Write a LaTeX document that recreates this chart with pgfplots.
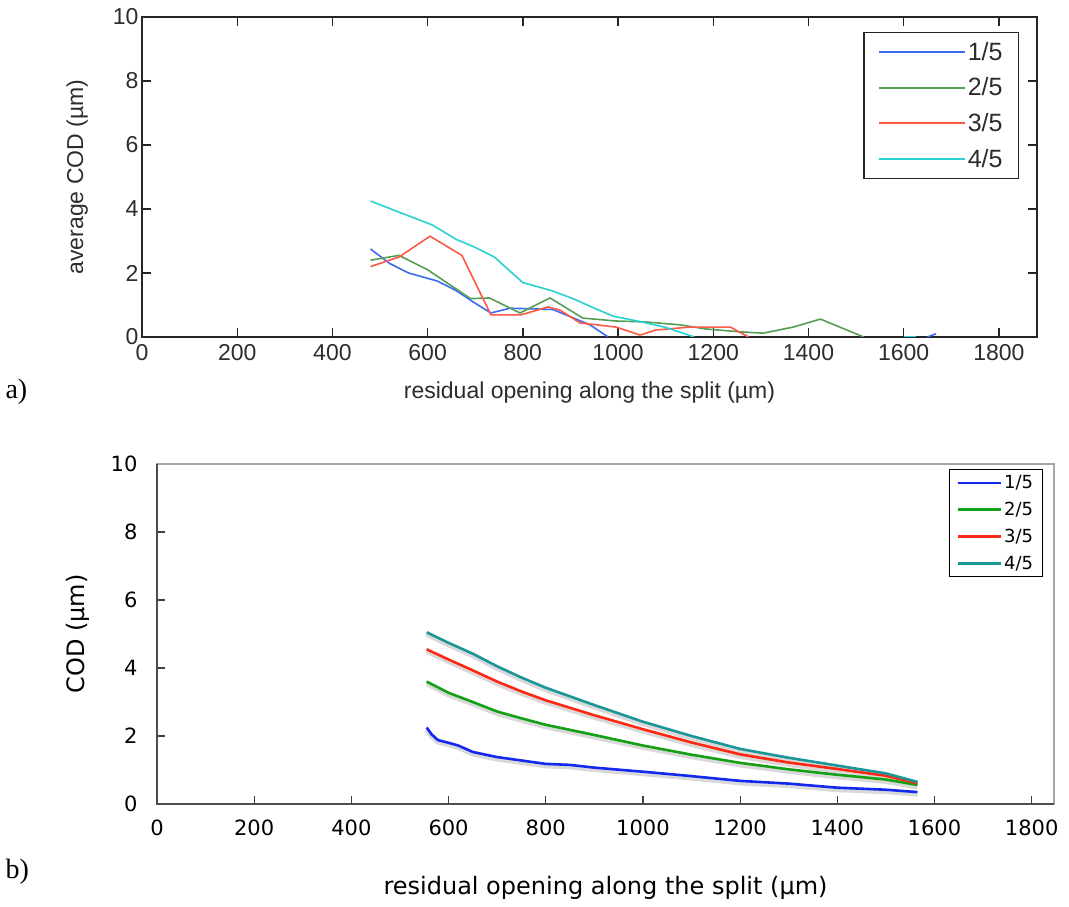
\documentclass[border=0pt]{standalone}
\usepackage{pgfplots}
\pgfplotsset{compat=1.18}
\usepackage{fontspec}
\setmainfont{Liberation Sans}
\newfontfamily\verd{DejaVu Sans}
\newfontfamily\serif{Liberation Serif}

\definecolor{mblue}{RGB}{58,108,240}
\definecolor{mgreen}{RGB}{86,158,86}
\definecolor{mred}{RGB}{250,90,70}
\definecolor{mcyan}{RGB}{40,210,210}
\definecolor{xblue}{RGB}{20,40,240}
\definecolor{xgreen}{RGB}{20,160,20}
\definecolor{xred}{RGB}{255,40,20}
\definecolor{xteal}{RGB}{26,150,150}
\definecolor{mtext}{RGB}{45,45,45}

% panel b series
\pgfplotstableread{
x y
555 2.25
565 2.05
578 1.88
600 1.80
620 1.72
650 1.53
700 1.38
750 1.28
800 1.18
850 1.15
900 1.07
1000 0.95
1100 0.82
1200 0.68
1300 0.60
1400 0.48
1500 0.42
1565 0.35
}\bone
\pgfplotstableread{
x y
555 3.60
600 3.27
650 3.00
700 2.72
750 2.52
800 2.33
900 2.03
1000 1.72
1100 1.45
1200 1.21
1300 1.02
1400 0.86
1500 0.72
1565 0.56
}\btwo
\pgfplotstableread{
x y
555 4.55
600 4.25
650 3.93
700 3.60
750 3.31
800 3.05
900 2.61
1000 2.20
1100 1.81
1200 1.46
1300 1.22
1400 1.03
1500 0.83
1565 0.61
}\bthree
\pgfplotstableread{
x y
555 5.05
600 4.74
650 4.42
700 4.05
750 3.72
800 3.42
900 2.91
1000 2.42
1100 2.00
1200 1.62
1300 1.36
1400 1.13
1500 0.90
1565 0.65
}\bfour

\begin{document}
\begin{tikzpicture}
\useasboundingbox[fill=white] (0,0) rectangle (1069pt,906pt);

% ---------------- a) ----------------
\begin{axis}[
  at={(142pt,569pt)}, anchor=south west,
  scale only axis, width=895pt, height=320pt,
  xmin=0, xmax=1880, ymin=0, ymax=10,
  xtick={0,200,...,1800}, ytick={0,2,...,10},
  tick align=inside, major tick length=9pt,
  axis line style={line width=1.3pt, black!85},
  every tick/.style={line width=1.3pt, black!85},
  ticklabel style={font=\fontsize{23}{23}\selectfont, text=mtext},
  xticklabel style={yshift=-4pt},
  /pgf/number format/assume math mode=true,
  /pgf/number format/1000 sep={},
  label style={font=\fontsize{23}{23}\selectfont, text=mtext},
  xlabel={residual opening along the split (µm)},
  xlabel style={yshift=-14pt},
  ylabel={average COD (µm)},
  ylabel style={yshift=18pt},
  legend cell align=left,
  legend style={at={(0.806,0.9545)}, anchor=north west,
    draw=black!85, line width=1.3pt,
    font=\fontsize{25}{25}\selectfont, text=mtext,
    inner xsep=14pt, inner ysep=8pt, row sep=12pt},
  legend image code/.code={\draw[#1, line width=1.8pt] (0pt,0pt) -- (86pt,0pt);},
]
\addplot[mblue, line width=1.6pt] coordinates {
(480,2.75)(520,2.3)(560,2.0)(620,1.75)(660,1.45)(695,1.1)(733,0.75)
(773,0.9)(863,0.86)(941,0.38)(979,0)};
\addlegendentry{1/5}
\addplot[mgreen, line width=1.6pt] coordinates {
(480,2.4)(540,2.55)(600,2.1)(650,1.6)(690,1.2)(730,1.22)(794,0.75)
(857,1.22)(926,0.59)(996,0.5)(1059,0.47)(1130,0.38)(1185,0.25)
(1257,0.16)(1305,0.12)(1368,0.31)(1425,0.56)(1516,0)};
\addlegendentry{2/5}
\addplot[mred, line width=1.6pt] coordinates {
(480,2.2)(540,2.5)(605,3.15)(672,2.55)(733,0.69)(796,0.69)(853,0.94)
(878,0.84)(920,0.44)(996,0.31)(1046,0.06)(1080,0.22)(1151,0.31)
(1236,0.31)(1274,0)};
\addlegendentry{3/5}
\addplot[mcyan, line width=1.6pt] coordinates {
(480,4.25)(540,3.9)(610,3.5)(660,3.05)(700,2.8)(740,2.5)(800,1.7)
(860,1.45)(905,1.2)(950,0.9)(990,0.65)(1050,0.47)(1100,0.3)(1160,0)};
\addlegendentry{4/5}
\addplot[mcyan, line width=1.6pt, forget plot] coordinates {(1600,0)(1625,0)};
\addplot[mblue, line width=1.6pt, forget plot] coordinates {(1650,0)(1668,0.1)};
\end{axis}
\node[font=\serif\fontsize{28}{28}\selectfont, anchor=west] at (2pt,514pt) {a)};

% ---------------- b) ----------------
\begin{axis}[
  at={(157pt,102pt)}, anchor=south west,
  scale only axis, width=897pt, height=340pt,
  xmin=0, xmax=1846, ymin=0, ymax=10,
  xtick={0,200,...,1800}, ytick={0,2,...,10},
  tick pos=left, tick align=inside, major tick length=8pt,
  axis line style={line width=2pt, black!35},
  every tick/.style={line width=1.2pt, black!75},
  ticklabel style={font=\verd\fontsize{21}{21}\selectfont, text=black},
  xticklabel style={yshift=-12pt},
  yticklabel style={xshift=-16pt},
  /pgf/number format/assume math mode=true,
  /pgf/number format/1000 sep={},
  label style={font=\verd\fontsize{24}{24}\selectfont, text=black},
  xlabel={residual opening along the split (µm)},
  xlabel style={yshift=-34pt},
  ylabel={COD (µm)},
  ylabel style={yshift=14pt},
  legend cell align=left,
  legend style={at={(0.883,0.985)}, anchor=north west,
    draw=black, line width=1pt,
    font=\verd\fontsize{18}{18}\selectfont,
    inner xsep=7pt, inner ysep=4pt, row sep=8pt},
  legend image code/.code={\draw[#1] (0pt,0pt) -- (43pt,0pt);},
  after end axis/.code={\draw[black!70, line width=1.5pt]
    (rel axis cs:0,1) -- (rel axis cs:0,0) -- (rel axis cs:1,0);},
]
\addplot[black!15, line width=5pt, yshift=-2pt, forget plot] table {\bone};
\addplot[black!15, line width=5pt, yshift=-2pt, forget plot] table {\btwo};
\addplot[black!15, line width=5pt, yshift=-2pt, forget plot] table {\bthree};
\addplot[black!15, line width=5pt, yshift=-2pt, forget plot] table {\bfour};
\addplot[xblue, line width=2.6pt] table {\bone};
\addlegendentry{1/5}
\addplot[xgreen, line width=2.6pt] table {\btwo};
\addlegendentry{2/5}
\addplot[xred, line width=2.6pt] table {\bthree};
\addlegendentry{3/5}
\addplot[xteal, line width=2.6pt] table {\bfour};
\addlegendentry{4/5}
\end{axis}
\node[font=\serif\fontsize{28}{28}\selectfont, anchor=west] at (2pt,34pt) {b)};
\end{tikzpicture}
\end{document}
